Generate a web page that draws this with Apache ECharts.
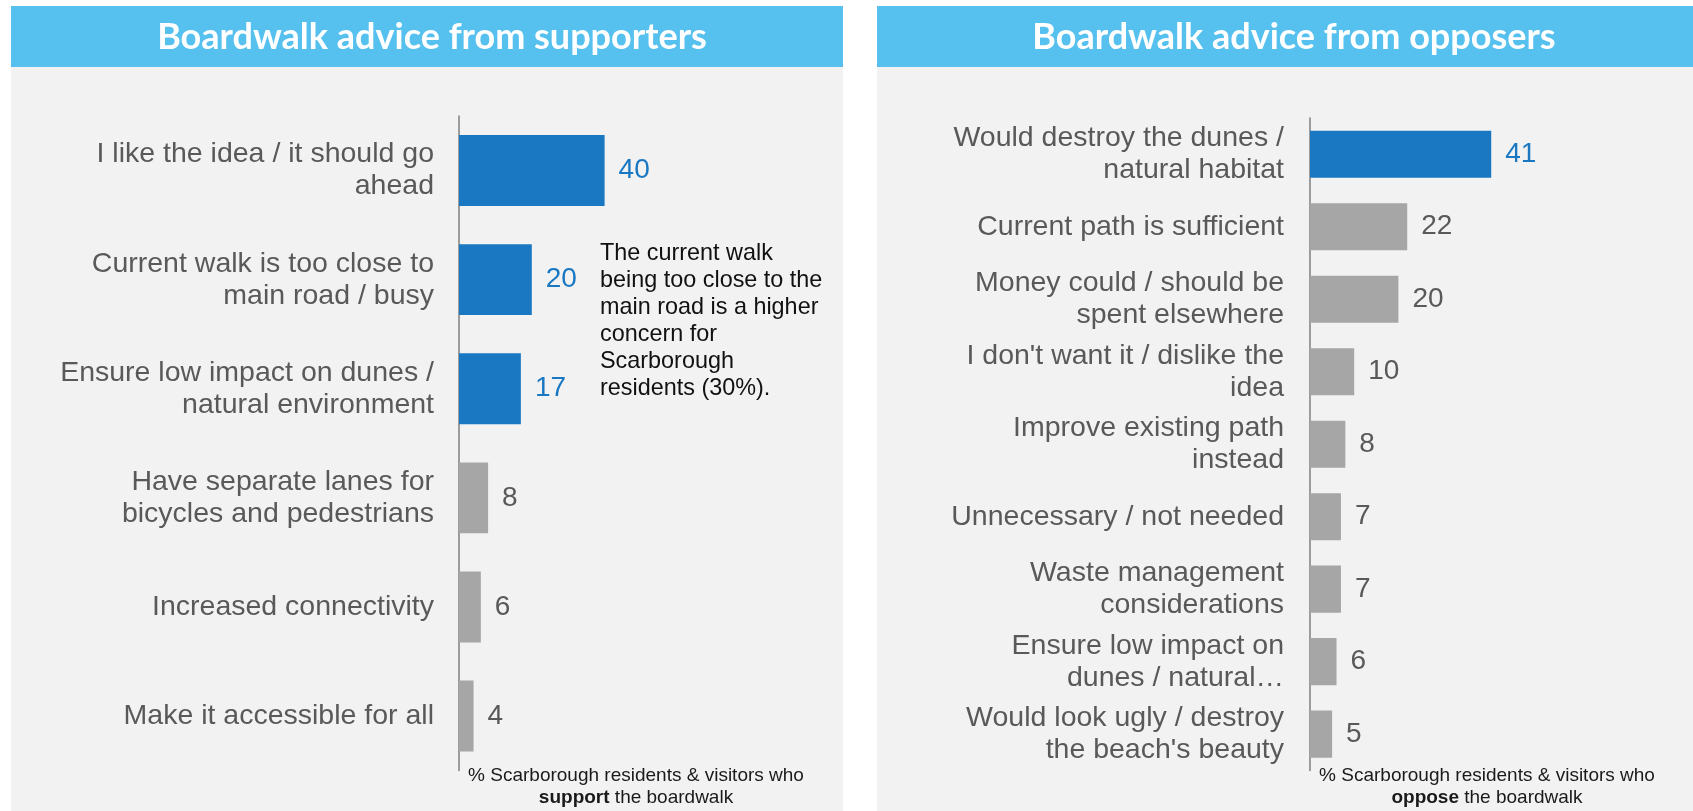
<!DOCTYPE html>
<html>
<head>
<meta charset="utf-8">
<script src="https://cdn.jsdelivr.net/npm/echarts@6/dist/echarts.min.js"></script>
<style>
  html, body { margin: 0; padding: 0; background: #ffffff; }
  #chart { width: 1693px; height: 811px; }
</style>
</head>
<body>
<div id="chart"></div>
<script>
// Supporters' advice (% of residents & visitors who support the boardwalk)
const supportCategories = [
  'I like the idea / it should go\nahead',
  'Current walk is too close to\nmain road / busy',
  'Ensure low impact on dunes /\nnatural environment',
  'Have separate lanes for\nbicycles and pedestrians',
  'Increased connectivity',
  'Make it accessible for all'
];
const supportValues = [40, 20, 17, 8, 6, 4];
const supportHighlighted = [true, true, true, false, false, false];

// Opposers' advice (% of residents & visitors who oppose the boardwalk)
const opposeCategories = [
  'Would destroy the dunes /\nnatural habitat',
  'Current path is sufficient',
  'Money could / should be\nspent elsewhere',
  "I don't want it / dislike the\nidea",
  'Improve existing path\ninstead',
  'Unnecessary / not needed',
  'Waste management\nconsiderations',
  'Ensure low impact on\ndunes / natural\u2026',
  "Would look ugly / destroy\nthe beach's beauty"
];
const opposeValues = [41, 22, 20, 10, 8, 7, 7, 6, 5];
const opposeHighlighted = [true, false, false, false, false, false, false, false, false];

const panelTitles = ['Boardwalk advice from supporters', 'Boardwalk advice from opposers'];
const noteText = 'The current walk\nbeing too close to the\nmain road is a higher\nconcern for\nScarborough\nresidents (30%).';
const footLine = '% Scarborough residents & visitors who';
const footWords = ['support', 'oppose'];

const BLUE = '#1a78c2';
const GREY = '#a6a6a6';
const LABEL_GREY = '#595959';
const HEADER = '#56c1ef';
const PANEL = '#f2f2f2';
const FONT = '"Liberation Sans", Arial, sans-serif';
const TITLE_FONT = 'Lato, "Liberation Sans", sans-serif';

function barData(values, highlighted) {
  return values.map((v, i) => ({
    value: v,
    itemStyle: { color: highlighted[i] ? BLUE : GREY },
    label: { color: highlighted[i] ? BLUE : LABEL_GREY }
  }));
}

function yAxisFor(gridIndex, cats, margin) {
  return {
    type: 'category',
    gridIndex: gridIndex,
    inverse: true,
    data: cats,
    axisLine: { show: true, lineStyle: { color: '#7f7f7f', width: 1.5 } },
    axisTick: { show: false },
    axisLabel: {
      color: LABEL_GREY, fontSize: 28.5, lineHeight: 32, fontFamily: FONT,
      margin: margin, align: 'right'
    }
  };
}

function xAxisFor(gridIndex, max) {
  return {
    type: 'value', gridIndex: gridIndex, min: 0, max: max,
    show: false, splitLine: { show: false }
  };
}

function headerTitle(cx, text) {
  return {
    type: 'text', x: cx, y: 37, z: 5,
    style: {
      text: text, align: 'center', verticalAlign: 'middle',
      fontSize: 36, fontWeight: 'bold', fontFamily: TITLE_FONT, fill: '#ffffff'
    }
  };
}

function footnote(cx, word) {
  return {
    type: 'text',
    x: cx, y: 765, z: 5,
    style: {
      text: footLine + '\n{b|' + word + '} the boardwalk',
      align: 'center', verticalAlign: 'top',
      fontSize: 19, lineHeight: 22, fontFamily: FONT, fill: '#1a1a1a',
      rich: { b: { fontWeight: 'bold', fontSize: 19, lineHeight: 22, fontFamily: FONT, fill: '#1a1a1a' } }
    }
  };
}

const chart = echarts.init(document.getElementById('chart'), null, { renderer: 'canvas' });

chart.setOption({
  animation: false,
  backgroundColor: '#ffffff',
  graphic: [
    // panel headers and light grey panel backgrounds
    { type: 'rect', z: -10, shape: { x: 11, y: 6, width: 832, height: 61 }, style: { fill: HEADER } },
    { type: 'rect', z: -10, shape: { x: 11, y: 67, width: 832, height: 744 }, style: { fill: PANEL } },
    { type: 'rect', z: -10, shape: { x: 877, y: 6, width: 816, height: 61 }, style: { fill: HEADER } },
    { type: 'rect', z: -10, shape: { x: 877, y: 67, width: 816, height: 744 }, style: { fill: PANEL } },
    headerTitle(432, panelTitles[0]),
    headerTitle(1294, panelTitles[1]),
    {
      type: 'text', x: 600, y: 240, z: 5,
      style: { text: noteText, fontSize: 23.4, lineHeight: 27, fontFamily: FONT, fill: '#111111' }
    },
    footnote(636, footWords[0]),
    footnote(1487, footWords[1])
  ],
  grid: [
    { left: 459, top: 116, width: 218.4, height: 654.6 },
    { left: 1310, top: 118, width: 265.2, height: 652.4 }
  ],
  xAxis: [xAxisFor(0, 60), xAxisFor(1, 60)],
  yAxis: [yAxisFor(0, supportCategories, 25), yAxisFor(1, opposeCategories, 26)],
  series: [
    {
      type: 'bar', xAxisIndex: 0, yAxisIndex: 0,
      data: barData(supportValues, supportHighlighted),
      barWidth: '65%',
      label: { show: true, position: 'right', distance: 14, fontSize: 28, fontFamily: FONT }
    },
    {
      type: 'bar', xAxisIndex: 1, yAxisIndex: 1,
      data: barData(opposeValues, opposeHighlighted),
      barWidth: '65%',
      label: { show: true, position: 'right', distance: 14, fontSize: 28, fontFamily: FONT }
    }
  ]
});
</script>
</body>
</html>
